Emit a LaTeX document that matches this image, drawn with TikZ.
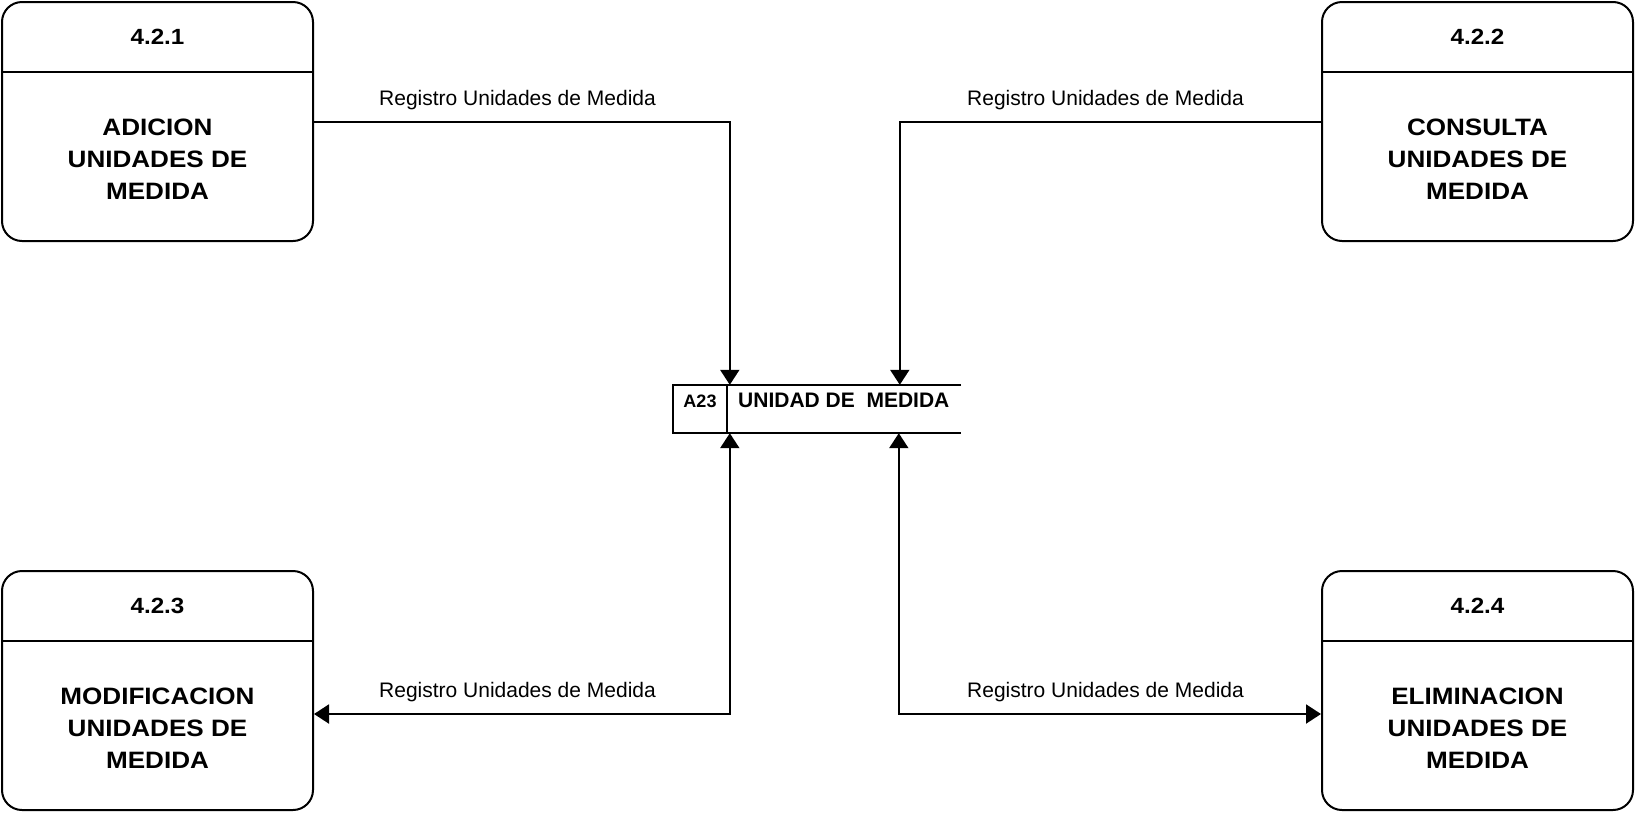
\documentclass[tikz,border=0pt]{standalone}
\usepackage{fontspec}
\setmainfont{Liberation Sans}
\newfontfamily\boxfont{Liberation Sans}[FakeStretch=1.1]
\usetikzlibrary{arrows.meta}
\begin{document}
\begin{tikzpicture}[x=1pt,y=-1pt,
  proc/.style={draw,line width=2pt,rounded corners=20pt,minimum width=311pt,minimum height=239pt,inner sep=0pt},
  ttl/.style={font=\boxfont\bfseries\fontsize{22}{26}\selectfont,anchor=base,inner sep=0pt},
  body/.style={font=\boxfont\bfseries\fontsize{23.7}{32}\selectfont,align=center,inner sep=0pt},
  lbl/.style={font=\fontsize{21}{24}\selectfont,anchor=base,inner sep=0pt},
  stxt/.style={font=\bfseries\fontsize{21}{24}\selectfont,anchor=base west,inner sep=0pt},
  tip/.style={-{Triangle[length=15pt,width=19pt]}},
  flow/.style={line width=2pt,tip},
  both/.style={line width=2pt,{Triangle[length=15pt,width=19pt]}-{Triangle[length=15pt,width=19pt]}}]
\useasboundingbox (0,0) rectangle (1636,812);

% process boxes
\node[proc] (b1) at (157.5,121.5) {};
\node[proc] (b2) at (1477.5,121.5) {};
\node[proc] (b3) at (157.5,690.5) {};
\node[proc] (b4) at (1477.5,690.5) {};
\foreach \b in {b1,b2,b3,b4}{
  \draw[line width=2pt] ([yshift=-71pt]\b.north west) -- ([yshift=-71pt]\b.north east);
}
\node[ttl] (t1) at ([yshift=-43pt]b1.north) {4.2.1};
\node[ttl] (t2) at ([yshift=-43pt]b2.north) {4.2.2};
\node[ttl] (t3) at ([yshift=-43pt]b3.north) {4.2.3};
\node[ttl] (t4) at ([yshift=-43pt]b4.north) {4.2.4};
\node[body] (n1) at ([yshift=-158pt]b1.north) {ADICION\\UNIDADES DE\\MEDIDA};
\node[body] (n2) at ([yshift=-158pt]b2.north) {CONSULTA\\UNIDADES DE\\MEDIDA};
\node[body] (n3) at ([yshift=-158pt]b3.north) {MODIFICACION\\UNIDADES DE\\MEDIDA};
\node[body] (n4) at ([yshift=-158pt]b4.north) {ELIMINACION\\UNIDADES DE\\MEDIDA};

% data store
\node[minimum width=288pt,minimum height=48pt,inner sep=0pt] (st) at (817,409) {};
\draw[line width=2pt] (st.north east) -- (st.north west) -- (st.south west) -- (st.south east);
\draw[line width=2pt] ([xshift=54pt]st.north west) -- ([xshift=54pt]st.south west);
\node[font=\bfseries\fontsize{18}{20}\selectfont,anchor=base,inner sep=0pt] (sid) at (700,407) {A23};
\node[stxt] (sname) at (738,407) {UNIDAD DE\ \ MEDIDA};

% flows
\draw[flow] (b1.east) -| ([xshift=57pt]st.north west);
\draw[flow] (b2.west) -| ([xshift=227pt]st.north west);
\draw[both] ([yshift=-23.5pt]b3.east) -| ([xshift=57pt]st.south west);
\draw[both] ([xshift=226pt]st.south west) |- ([yshift=-23.5pt]b4.west);

% labels
\node[lbl] (l1) at (517.5,105) {Registro Unidades de Medida};
\node[lbl] (l2) at (1105.5,105) {Registro Unidades de Medida};
\node[lbl] (l3) at (517.5,697) {Registro Unidades de Medida};
\node[lbl] (l4) at (1105.5,697) {Registro Unidades de Medida};
\end{tikzpicture}
\end{document}
